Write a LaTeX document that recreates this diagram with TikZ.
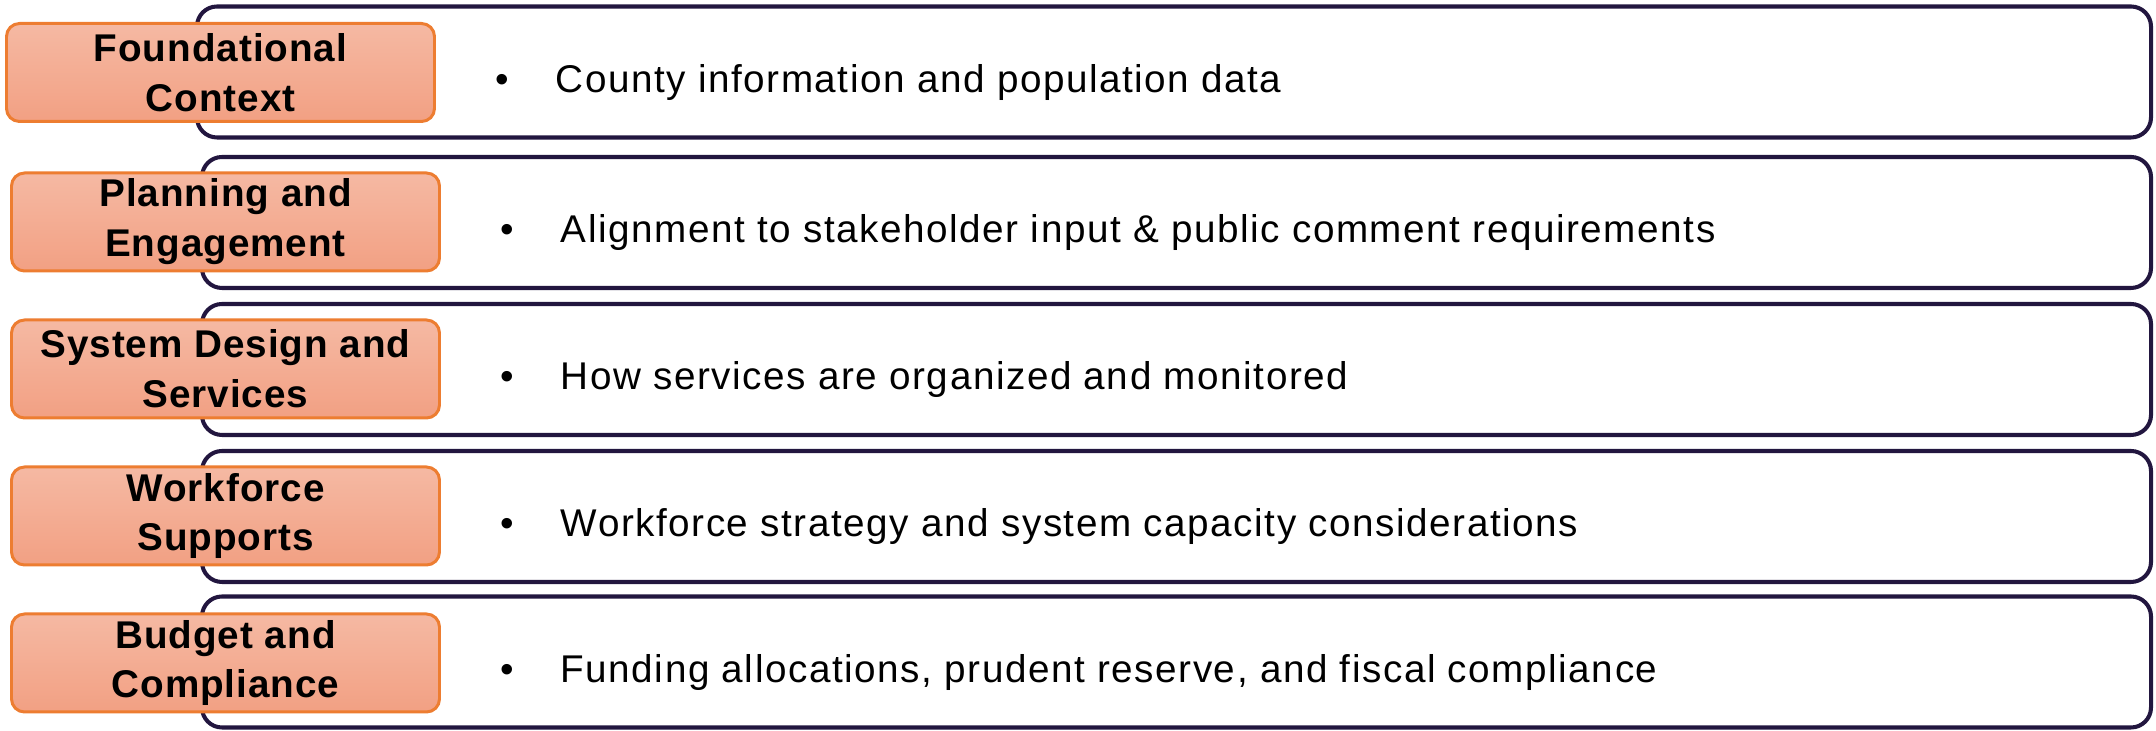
\documentclass[tikz,border=0pt]{standalone}
\usepackage{fontspec}
\setmainfont{Liberation Sans}
\usepackage{tikz}
\usetikzlibrary{positioning,shapes}

\definecolor{rowline}{HTML}{22163F}
\definecolor{tagline}{HTML}{ED7D31}
\definecolor{tagtop}{HTML}{F5B9A3}
\definecolor{tagbottom}{HTML}{F2A083}

\tikzset{
	rowbox/.style={draw=rowline, line width=1.15pt, rounded corners=0.2cm, fill=white,
		minimum width=19.49cm, minimum height=1.31cm, inner sep=0pt},
	tagbox/.style={draw=tagline, line width=0.85pt, rounded corners=0.13cm,
		top color=tagtop, bottom color=tagbottom,
		minimum width=4.28cm, minimum height=0.98cm, inner sep=0pt,
		align=center, font=\fontsize{11}{14.2}\selectfont\bfseries\addfontfeature{LetterSpace=2.5}},
	dot/.style={anchor=base, inner sep=0pt, font=\fontsize{11}{14}\selectfont},
	item/.style={anchor=base west, inner sep=0pt, font=\fontsize{11}{14}\selectfont\addfontfeature{LetterSpace=4}}
}

\begin{document}
\begin{tikzpicture}
		\useasboundingbox (0,0) rectangle (21.56,7.31);

		% Rows (white boxes)
		\node[rowbox, minimum width=19.54cm] (ctxrow) at (11.74,6.59) {};
		\node[rowbox] (planrow) at (11.765,5.085) {};
		\node[rowbox] (designrow) at (11.765,3.615) {};
		\node[rowbox] (workrow) at (11.765,2.145) {};
		\node[rowbox] (budgetrow) at (11.765,0.69) {};

		% Section tags
		\node[tagbox] (ctxtag) at (2.205,6.585) {Foundational\\Context};
		\node[tagbox] (plantag) at (2.255,5.09) {Planning and\\Engagement};
		\node[tagbox] (designtag) at (2.255,3.62) {System Design and\\Services};
		\node[tagbox] (worktag) at (2.255,2.15) {Workforce\\Supports};
		\node[tagbox] (budgettag) at (2.255,0.68) {Budget and\\Compliance};

		% Bullets
		\node[dot] (ctxdot) at (5.02,6.385) {•};
		\node[dot] (plandot) at (5.07,4.88) {•};
		\node[dot] (designdot) at (5.07,3.41) {•};
		\node[dot] (workdot) at (5.07,1.94) {•};
		\node[dot] (budgetdot) at (5.07,0.485) {•};

		% Items
		\node[item] (ctxitem) at (5.55,6.385) {County information and population data};
		\node[item] (planitem) at (5.60,4.88) {Alignment to stakeholder input \& public comment requirements};
		\node[item] (designitem) at (5.60,3.41) {How services are organized and monitored};
		\node[item] (workitem) at (5.60,1.94) {Workforce strategy and system capacity considerations};
		\node[item] (budgetitem) at (5.60,0.485) {Funding allocations, prudent reserve, and fiscal compliance};
	\end{tikzpicture}
\end{document}
